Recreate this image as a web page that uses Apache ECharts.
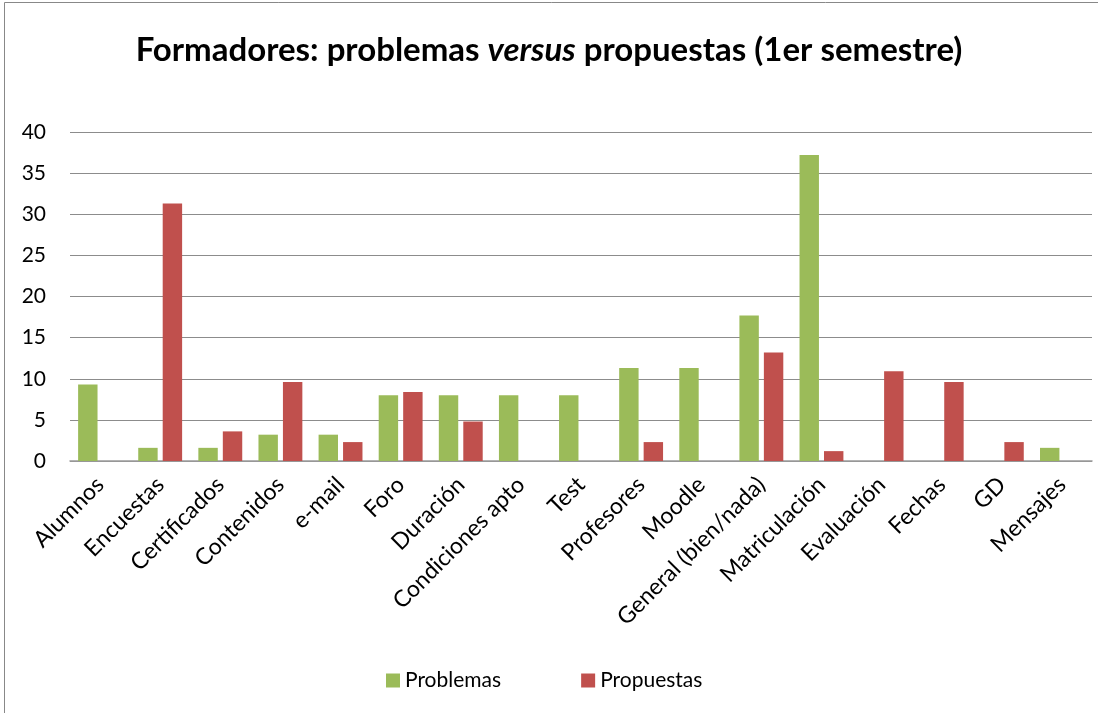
<!DOCTYPE html>
<html>
<head>
<meta charset="utf-8">
<script src="https://cdn.jsdelivr.net/npm/echarts@6/dist/echarts.min.js"></script>
<style>
  html, body { margin: 0; padding: 0; background: #fff; }
  #chart { width: 1098px; height: 713px; }
</style>
</head>
<body>
<div id="chart"></div>
<script>
// Categories and the two series shown side by side
const categories = ['Alumnos', 'Encuestas', 'Certificados', 'Contenidos', 'e-mail', 'Foro', 'Duración',
  'Condiciones apto', 'Test', 'Profesores', 'Moodle', 'General (bien/nada)', 'Matriculación',
  'Evaluación', 'Fechas', 'GD', 'Mensajes'];
const problemas = [9.3, 1.6, 1.6, 3.2, 3.2, 8.0, 8.0, 8.0, 8.0, 11.3, 11.3, 17.7, 37.2, 0, 0, 0, 1.6];
const propuestas = [0, 31.3, 3.6, 9.6, 2.3, 8.4, 4.8, 0, 0, 2.3, 0, 13.2, 1.2, 10.9, 9.6, 2.3, 0];
const seriesNames = ['Problemas', 'Propuestas'];

const FONT = 'Lato, "Open Sans", sans-serif';

const chart = echarts.init(document.getElementById('chart'), null, { renderer: 'canvas' });
chart.setOption({
  backgroundColor: '#fff',
  animation: false,
  title: {
    text: 'Formadores: problemas {i|versus} propuestas (1er semestre)',
    left: 'center',
    top: 29,
    textStyle: {
      fontFamily: FONT, fontWeight: 'bold', fontSize: 33, color: '#000',
      rich: { i: { fontFamily: FONT, fontWeight: 'bold', fontStyle: 'italic', fontSize: 33, color: '#000' } }
    }
  },
  graphic: [{
    type: 'rect', left: 2, top: 0,
    shape: { width: 1100, height: 711 },
    style: { fill: 'none', stroke: '#888', lineWidth: 1 }
  }],
  legend: {
    data: seriesNames,
    top: 665,
    left: 381,
    itemGap: 80,
    itemWidth: 14,
    itemHeight: 14,
    icon: 'rect',
    textStyle: { fontFamily: FONT, fontSize: 21, color: '#000' }
  },
  grid: { left: 70, right: 6, top: 132, bottom: 252, containLabel: false },
  xAxis: {
    type: 'category',
    data: categories,
    axisLine: { lineStyle: { color: '#9a9a9a', width: 1.5 } },
    axisTick: { show: false },
    axisLabel: {
      rotate: 45, interval: 0, margin: 20,
      fontFamily: FONT, fontSize: 23, color: '#000'
    }
  },
  yAxis: {
    type: 'value',
    min: 0, max: 40, interval: 5,
    axisLine: { show: false },
    axisTick: { show: false },
    splitLine: { lineStyle: { color: '#8c8c8c', width: 1.2 } },
    axisLabel: { fontFamily: FONT, fontSize: 21, color: '#000', margin: 24 }
  },
  series: [
    {
      name: seriesNames[0], type: 'bar', data: problemas,
      barGap: '26%', barCategoryGap: '27%',
      itemStyle: { color: '#9BBB59' }
    },
    {
      name: seriesNames[1], type: 'bar', data: propuestas,
      barGap: '26%', barCategoryGap: '27%',
      itemStyle: { color: '#C0504D' }
    }
  ]
});
</script>
</body>
</html>
